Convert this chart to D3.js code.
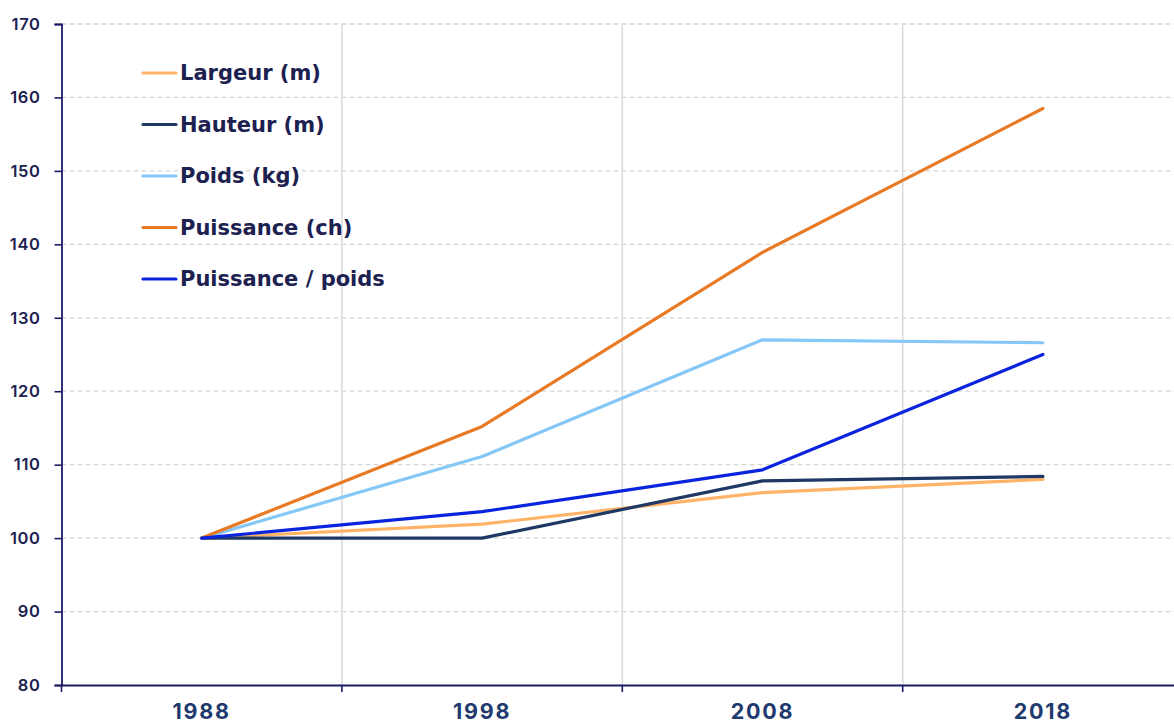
<!DOCTYPE html>
<html>
<head>
<meta charset="utf-8">
<script src="https://cdn.jsdelivr.net/npm/d3@7"></script>
<style>
  html, body { margin: 0; padding: 0; background: #fff; }
  svg { display: block; font-family: "Inter", "Open Sans", sans-serif; }
</style>
</head>
<body>
<svg id="chart" width="1174" height="725"></svg>
<script>
// Index base 100 in 1988
const years = ["1988", "1998", "2008", "2018"];
const largeur = [100, 101.9, 106.2, 108.0];
const hauteur = [100, 100.0, 107.8, 108.4];
const poids = [100, 111.1, 127.0, 126.6];
const puissance = [100, 115.2, 138.9, 158.5];
const puissancePoids = [100, 103.6, 109.3, 125.0];
const yTicks = [80, 90, 100, 110, 120, 130, 140, 150, 160, 170];

const series = [
  { name: "Largeur (m)", values: largeur, color: "#FFB366" },
  { name: "Hauteur (m)", values: hauteur, color: "#1F3864" },
  { name: "Poids (kg)", values: poids, color: "#85C8F7" },
  { name: "Puissance (ch)", values: puissance, color: "#E87A25" },
  { name: "Puissance / poids", values: puissancePoids, color: "#0A24DD" }
];

const svg = d3.select("#chart");
const plotLeft = 61.5, plotTop = 24, plotBottom = 685;
const bandW = 280.4;

const x = d3.scaleBand().domain(years).range([plotLeft, plotLeft + bandW * years.length]).padding(0);
const y = d3.scaleLinear().domain([80, 170]).range([plotBottom, plotTop]);

// horizontal dashed grid
svg.append("g").selectAll("line").data(yTicks.filter(d => d > 80)).join("line")
  .attr("x1", plotLeft).attr("x2", 1174)
  .attr("y1", d => y(d)).attr("y2", d => y(d))
  .attr("stroke", "#d6d6d6").attr("stroke-width", 1.3).attr("stroke-dasharray", "5,3");

// vertical grid at band boundaries
svg.append("g").selectAll("line").data(years.slice(1)).join("line")
  .attr("x1", d => x(d)).attr("x2", d => x(d))
  .attr("y1", plotTop).attr("y2", plotBottom)
  .attr("stroke", "#dcdcdc").attr("stroke-width", 1.6);

// lines
const line = d3.line()
  .x((d, i) => x(years[i]) + x.bandwidth() / 2)
  .y(d => y(d));

svg.append("g").selectAll("path").data(series).join("path")
  .attr("d", s => line(s.values))
  .attr("fill", "none")
  .attr("stroke", s => s.color)
  .attr("stroke-width", 3.2)
  .attr("stroke-linejoin", "round")
  .attr("stroke-linecap", "round");

// y axis
const yAxis = svg.append("g")
  .attr("transform", `translate(${plotLeft},0)`)
  .call(d3.axisLeft(y).tickValues(yTicks).tickSize(7).tickPadding(14));
yAxis.select(".domain").attr("stroke", "#1b1b66").attr("stroke-width", 1.8);
yAxis.selectAll(".tick line").attr("stroke", "#1b1b66").attr("stroke-width", 1.6);
yAxis.selectAll(".tick text")
  .attr("fill", "#1c2150").attr("font-size", 16.5).attr("font-weight", 600)
  .attr("letter-spacing", 0.6)
  .attr("font-family", "Inter, sans-serif");

// x axis
const xAxis = svg.append("g")
  .attr("transform", `translate(0,${plotBottom})`)
  .call(d3.axisBottom(x).tickSize(0).tickPadding(19));
xAxis.select(".domain").attr("stroke", "#1b1b66").attr("stroke-width", 1.8);
xAxis.selectAll(".tick text")
  .attr("fill", "#1f3a6e").attr("font-size", 21.5).attr("font-weight", 700)
  .attr("letter-spacing", 1.8)
  .attr("font-family", "Inter, sans-serif");

// x tick marks at band boundaries
svg.append("g").selectAll("line").data(years).join("line")
  .attr("x1", d => x(d)).attr("x2", d => x(d))
  .attr("y1", plotBottom).attr("y2", plotBottom + 7)
  .attr("stroke", "#1b1b66").attr("stroke-width", 1.6);

// legend
const legend = svg.append("g").attr("transform", "translate(143,73)");
const item = legend.selectAll("g").data(series).join("g")
  .attr("transform", (d, i) => `translate(0,${i * 51.5})`);
item.append("line")
  .attr("x1", 0).attr("x2", 33).attr("y1", 0).attr("y2", 0)
  .attr("stroke", d => d.color).attr("stroke-width", 3.2).attr("stroke-linecap", "round");
item.append("text")
  .attr("x", 37).attr("y", 0).attr("dy", "0.35em")
  .attr("fill", "#1c2150").attr("font-size", 21).attr("font-weight", "bold")
  .attr("font-family", "'DejaVu Sans', sans-serif")
  .text(d => d.name);
</script>
</body>
</html>
